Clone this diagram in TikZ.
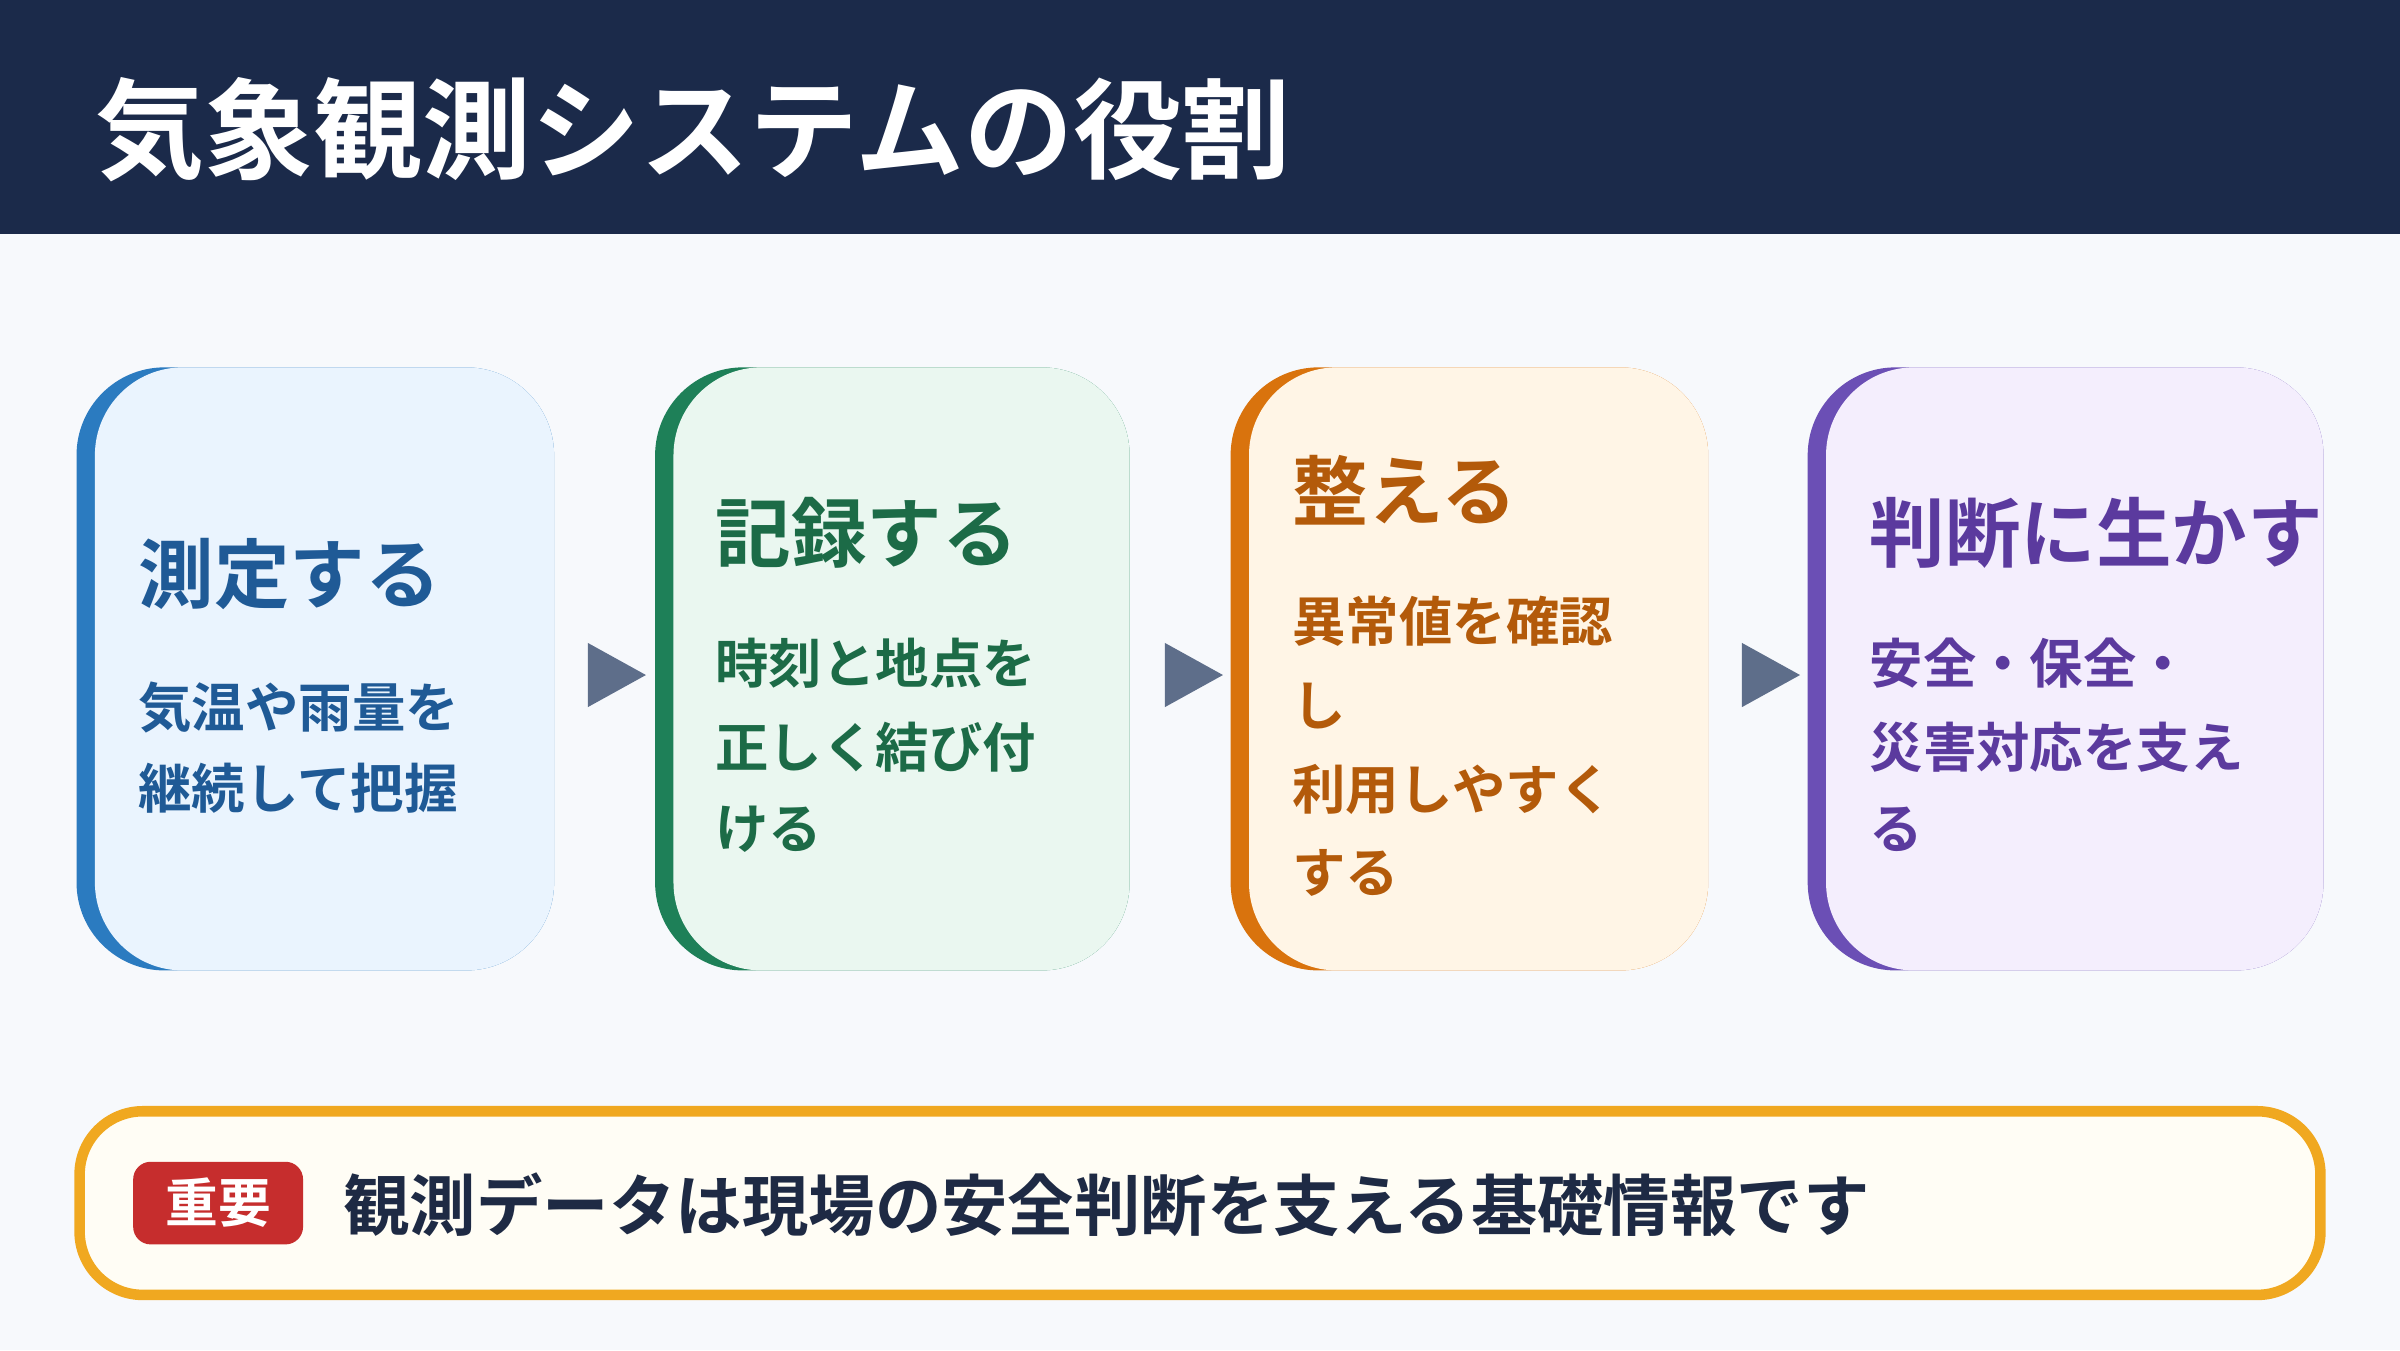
\documentclass[tikz,border=0pt]{standalone}
\usepackage{fontspec}
\setmainfont{Noto Sans CJK JP}[BoldFont={* Bold}]
\definecolor{navy}{HTML}{1B2A4A}
\definecolor{pagebg}{HTML}{F7F9FC}
\definecolor{arrowgray}{HTML}{5E6E8A}
\definecolor{blueL}{HTML}{2B7BC0}\definecolor{blueF}{HTML}{EAF4FE}\definecolor{blueT}{HTML}{1F5A96}
\definecolor{greenL}{HTML}{1E8058}\definecolor{greenF}{HTML}{EAF7F0}\definecolor{greenT}{HTML}{1C6B47}
\definecolor{orangeL}{HTML}{D9730D}\definecolor{orangeF}{HTML}{FFF5E6}\definecolor{orangeT}{HTML}{B35A0A}
\definecolor{purpleL}{HTML}{6B4FB5}\definecolor{purpleF}{HTML}{F4EEFD}\definecolor{purpleT}{HTML}{5B3A9E}
\definecolor{noteB}{HTML}{F0A820}\definecolor{noteF}{HTML}{FFFDF5}\definecolor{badge}{HTML}{C62D2D}
\definecolor{noteT}{HTML}{1E2A44}
\tikzset{
  cardtitle/.style={anchor=west,inner sep=0pt,font=\fontsize{21.5}{26}\selectfont\bfseries},
  cardbody/.style={anchor=west,inner sep=0pt,font=\fontsize{15.2}{18}\selectfont\bfseries},
  flowarrow/.style={fill=arrowgray},
}
\begin{document}
\begin{tikzpicture}[x=0.01531cm,y=-0.01531cm]
\fill[pagebg] (0,0) rectangle (1568,882);
\useasboundingbox (0,0) rectangle (1568,882);
% header
\fill[navy] (0,0) rectangle (1568,153);
\node[anchor=west,inner sep=0pt,text=white,font=\fontsize{31}{36}\selectfont\bfseries] (title) at (62,85) {気象観測システムの役割};

% cards
\fill[blueL,rounded corners=25] (50,240) rectangle (362,634);
\fill[blueF,rounded corners=25] (62,240) rectangle (362,634);
\fill[greenL,rounded corners=25] (428,240) rectangle (738,634);
\fill[greenF,rounded corners=25] (440,240) rectangle (738,634);
\fill[orangeL,rounded corners=25] (804,240) rectangle (1116,634);
\fill[orangeF,rounded corners=25] (816,240) rectangle (1116,634);
\fill[purpleL,rounded corners=25] (1181,240) rectangle (1518,634);
\fill[purpleF,rounded corners=25] (1193,240) rectangle (1518,634);

% card 1
\node[cardtitle,text=blueT] (t1) at (90,375) {測定する};
\node[cardbody,text=blueT] (b1a) at (90,462) {気温や雨量を};
\node[cardbody,text=blueT] (b1b) at (90,515) {継続して把握};
% card 2
\node[cardtitle,text=greenT] (t2) at (467,348) {記録する};
\node[cardbody,text=greenT] (b2a) at (467,433) {時刻と地点を};
\node[cardbody,text=greenT] (b2b) at (467,488) {正しく結び付};
\node[cardbody,text=greenT] (b2c) at (467,542) {ける};
% card 3
\node[cardtitle,text=orangeT] (t3) at (844,320) {整える};
\node[cardbody,text=orangeT] (b3a) at (844,406) {異常値を確認};
\node[cardbody,text=orangeT] (b3b) at (844,461) {し};
\node[cardbody,text=orangeT] (b3c) at (844,516) {利用しやすく};
\node[cardbody,text=orangeT] (b3d) at (844,570) {する};
% card 4
\node[cardtitle,text=purpleT] (t4) at (1221,348) {判断に生かす};
\node[cardbody,text=purpleT] (b4a) at (1221,433) {安全・保全・};
\node[cardbody,text=purpleT] (b4b) at (1221,488) {災害対応を支え};
\node[cardbody,text=purpleT] (b4c) at (1221,542) {る};

% arrows
\foreach \x in {384,761,1138}
  \fill[flowarrow] (\x,420) -- (\x+38,441) -- (\x,462) -- cycle;

% note
\draw[noteB,line width=3pt,fill=noteF,rounded corners=18] (52,726) rectangle (1516,846);
\fill[badge,rounded corners=5] (87,759) rectangle (198,813);
\node[inner sep=0pt,text=white,font=\fontsize{15}{18}\selectfont\bfseries] (badge) at (142.5,786) {重要};
\node[anchor=west,inner sep=0pt,text=noteT,font=\fontsize{18.9}{22}\selectfont\bfseries] (note) at (224,787) {観測データは現場の安全判断を支える基礎情報です};
\end{tikzpicture}
\end{document}
